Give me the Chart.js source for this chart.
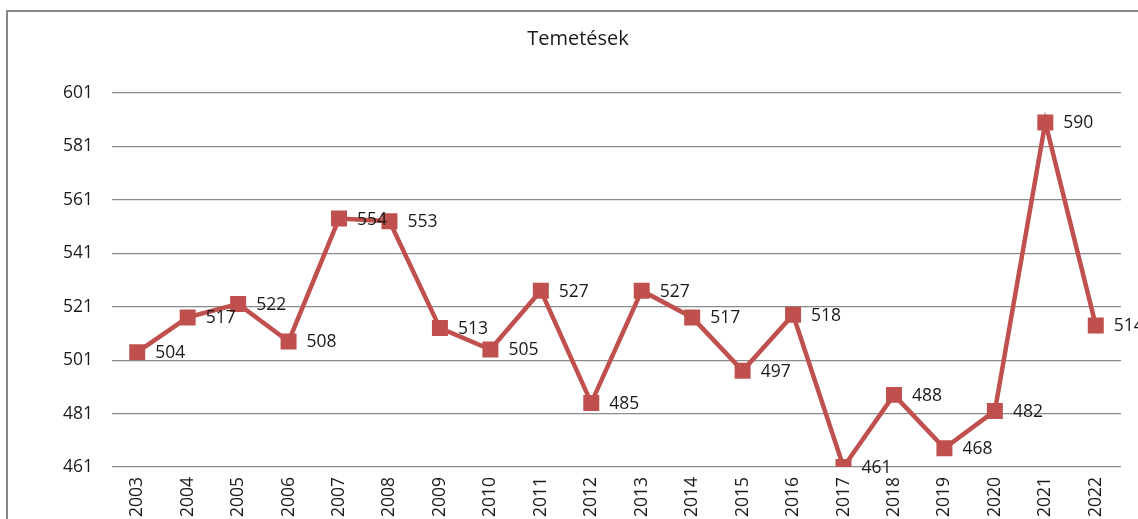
<!DOCTYPE html>
<html>
<head>
<meta charset="utf-8">
<script src="https://cdn.jsdelivr.net/npm/chart.js@4/dist/chart.umd.min.js"></script>
<style>
html,body{margin:0;padding:0;background:#fff;overflow:hidden;}
#wrap{position:absolute;left:0;top:0;width:1138px;height:519px;}
</style>
</head>
<body>
<div id="wrap"><canvas id="c" width="1138" height="519"></canvas></div>
<script>
const titleText = "Temetések";
const years = ["2003","2004","2005","2006","2007","2008","2009","2010","2011","2012","2013","2014","2015","2016","2017","2018","2019","2020","2021","2022"];
const burials = [504,517,522,508,554,553,513,505,527,485,527,517,497,518,461,488,468,482,590,514];
const yTicks = [461,481,501,521,541,561,581,601];

const FONT = "'Open Sans', 'Noto Sans', sans-serif";

const framePlugin = {
  id: 'frame',
  beforeDraw(chart) {
    const ctx = chart.ctx;
    ctx.save();
    ctx.strokeStyle = '#878787';
    ctx.lineWidth = 2;
    ctx.beginPath();
    ctx.moveTo(7, 519);
    ctx.lineTo(7, 11);
    ctx.lineTo(1138, 11);
    ctx.stroke();
    ctx.font = "20px " + FONT;
    ctx.fillStyle = '#1a1a1a';
    ctx.textAlign = 'center';
    ctx.textBaseline = 'middle';
    ctx.fillText(titleText, 578, 39);
    ctx.restore();
  }
};

const labelPlugin = {
  id: 'valueLabels',
  afterDatasetsDraw(chart) {
    const ctx = chart.ctx;
    const meta = chart.getDatasetMeta(0);
    const data = chart.data.datasets[0].data;
    ctx.save();
    ctx.font = "17.5px " + FONT;
    ctx.fillStyle = '#1a1a1a';
    ctx.textAlign = 'left';
    ctx.textBaseline = 'middle';
    meta.data.forEach((pt, i) => {
      ctx.fillText(String(data[i]), pt.x + 18, pt.y + 1);
    });
    ctx.restore();
  }
};

new Chart(document.getElementById('c'), {
  type: 'line',
  data: {
    labels: years,
    datasets: [{
      label: titleText,
      data: burials,
      borderColor: '#C0504D',
      backgroundColor: '#C0504D',
      borderWidth: 4.5,
      pointStyle: 'rect',
      pointRadius: 11.3,
      pointHoverRadius: 11.3,
      pointBorderWidth: 0,
      pointBackgroundColor: '#C0504D',
      tension: 0,
      fill: false
    }]
  },
  options: {
    responsive: false,
    animation: false,
    events: [],
    layout: { padding: { left: 0, right: 17, top: 93, bottom: 0 } },
    plugins: {
      legend: { display: false },
      tooltip: { enabled: false },
      title: { display: false }
    },
    scales: {
      x: {
        type: 'category',
        offset: true,
        grid: { display: false, drawTicks: false },
        border: { display: false },
        afterFit(scale) { scale.height = 52; },
        ticks: {
          minRotation: 90,
          maxRotation: 90,
          autoSkip: false,
          padding: 10,
          color: '#1a1a1a',
          font: { family: FONT, size: 17.5 }
        }
      },
      y: {
        type: 'linear',
        min: 461,
        max: 601,
        afterBuildTicks(scale) { scale.ticks = yTicks.map(v => ({ value: v })); },
        afterFit(scale) { scale.width = 112; },
        grid: { color: '#8a8a8a', lineWidth: 1.2, drawTicks: false },
        border: { display: false },
        ticks: {
          padding: 19,
          color: '#1a1a1a',
          font: { family: FONT, size: 17.5 }
        }
      }
    }
  },
  plugins: [framePlugin, labelPlugin]
});
</script>
</body>
</html>
